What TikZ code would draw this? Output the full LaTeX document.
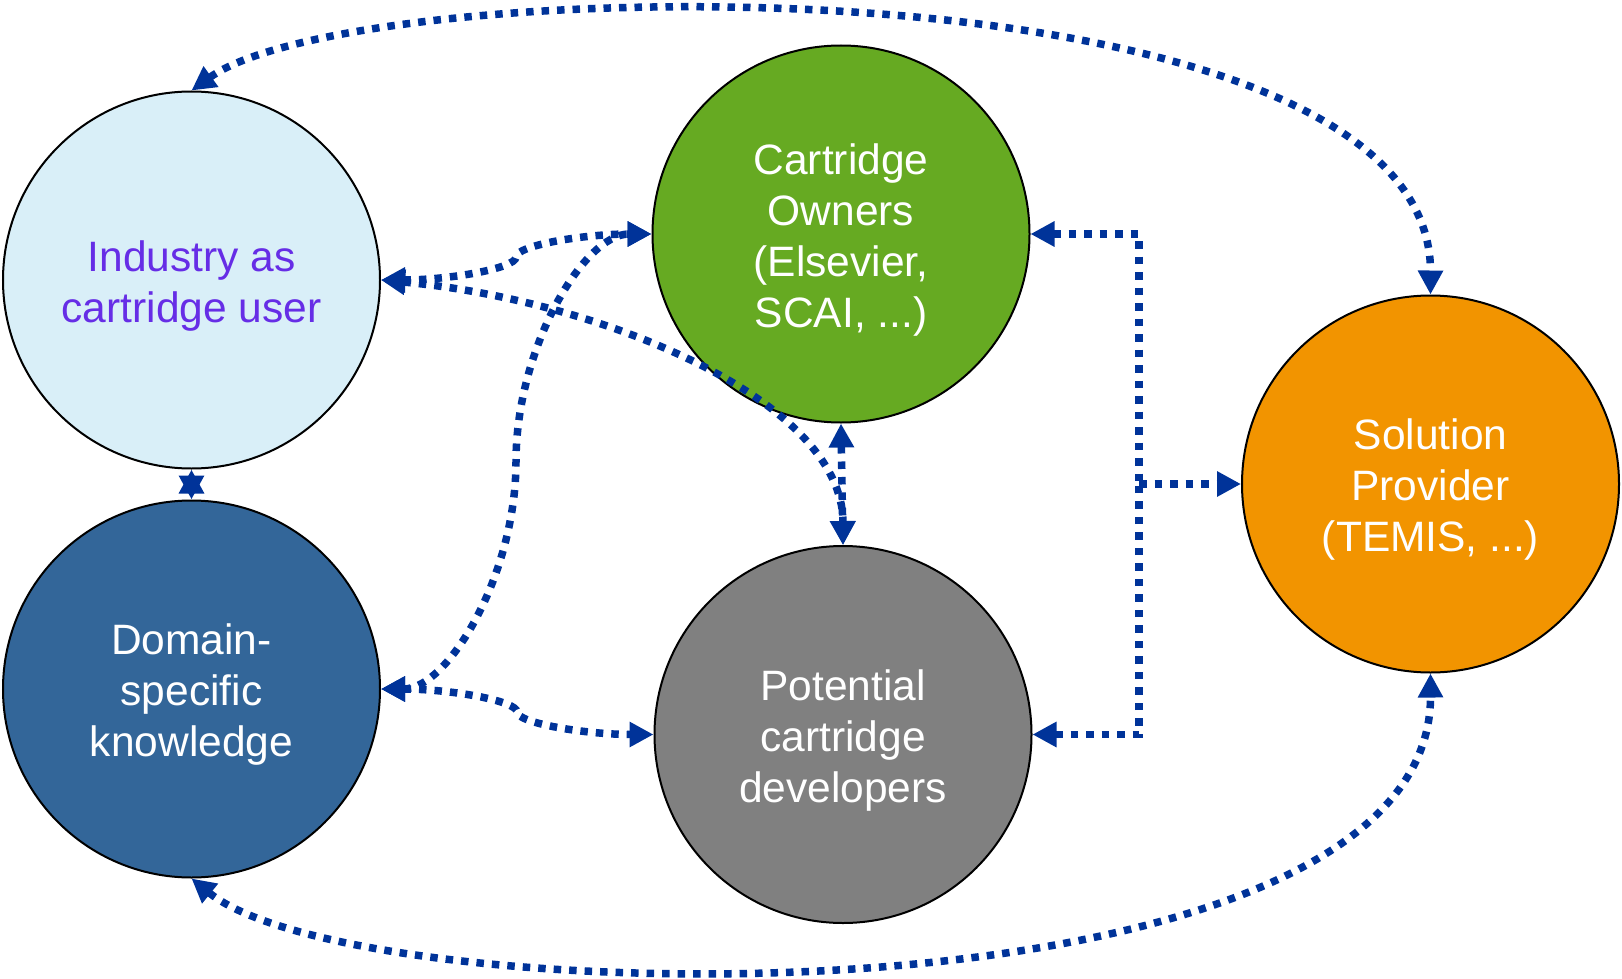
\documentclass[tikz,border=0pt]{standalone}
\usepackage{fontspec}
\setmainfont{Liberation Sans}
\usetikzlibrary{arrows.meta}
\definecolor{conncol}{RGB}{0,51,153}
\definecolor{indfill}{RGB}{217,239,248}
\definecolor{indtext}{RGB}{102,45,230}
\definecolor{ownfill}{RGB}{102,170,34}
\definecolor{domfill}{RGB}{51,102,153}
\definecolor{potfill}{RGB}{128,128,128}
\definecolor{solfill}{RGB}{242,148,0}
\newcommand\txtlift{\rule{0pt}{42pt}}
\tikzset{
  actor/.style={circle, draw=black, line width=2pt, minimum size=377pt, inner sep=0pt,
    align=center, text=white, font=\fontsize{42.5}{51}\selectfont},
  conn/.style={draw=conncol, line width=7.5pt, dash pattern=on 7.5pt off 8pt,
    arrows={-}, >={Triangle[length=24pt,width=24pt]}},
}
\begin{document}
\begin{tikzpicture}[x=1pt,y=-1pt]
\useasboundingbox (0,0) rectangle (1622,979);
\node[actor, fill=indfill, text=indtext] (ind) at (191.5,280) {\txtlift Industry as\\cartridge user};
\node[actor, fill=domfill] (dom) at (191.5,689) {\txtlift Domain-\\specific\\knowledge};
\node[actor, fill=ownfill] (own) at (841,234) {\txtlift Cartridge\\Owners\\(Elsevier,\\SCAI, ...)};
\node[actor, fill=potfill] (pot) at (843,734.5) {\txtlift Potential\\cartridge\\developers};
\node[actor, fill=solfill] (sol) at (1430.5,484) {\txtlift Solution\\Provider\\(TEMIS, ...)};

% long arcs
\draw[conn,<->] (ind.north) .. controls (360,-30) and (1431,-50) .. (sol.north);
\draw[conn,<->] (dom.south) .. controls (360,1015) and (1431,1035) .. (sol.south);

% industry connectors
\draw[conn,<->] (ind.east) .. controls (448,280) and (516,268.5) .. (516,257)
   .. controls (516,245.5) and (584,234) .. (own.west);
\draw[conn,<->] (ind.east) .. controls (600,300) and (843,400) .. (pot.north);
\draw[conn,<->] (ind.south) -- (dom.north);

% domain connectors
\draw[conn,<->] (dom.east) .. controls (448,689) and (516,575) .. (516,461.5)
   .. controls (516,348) and (584,234) .. (own.west);
\draw[conn,<->] (dom.east) .. controls (448.5,689) and (517,700.5) .. (517,712)
   .. controls (517,723) and (586,734.5) .. (pot.west);

% owners - potential
\draw[conn,<->] (own.south) -- (pot.north);

% bracket to solution provider
\coordinate (j) at (1139,484);
\draw[conn,<-] (own.east) -| (j);
\draw[conn,<-] (pot.east) -| (j);
\draw[conn,->] (j) -- (sol.west);
\end{tikzpicture}
\end{document}
